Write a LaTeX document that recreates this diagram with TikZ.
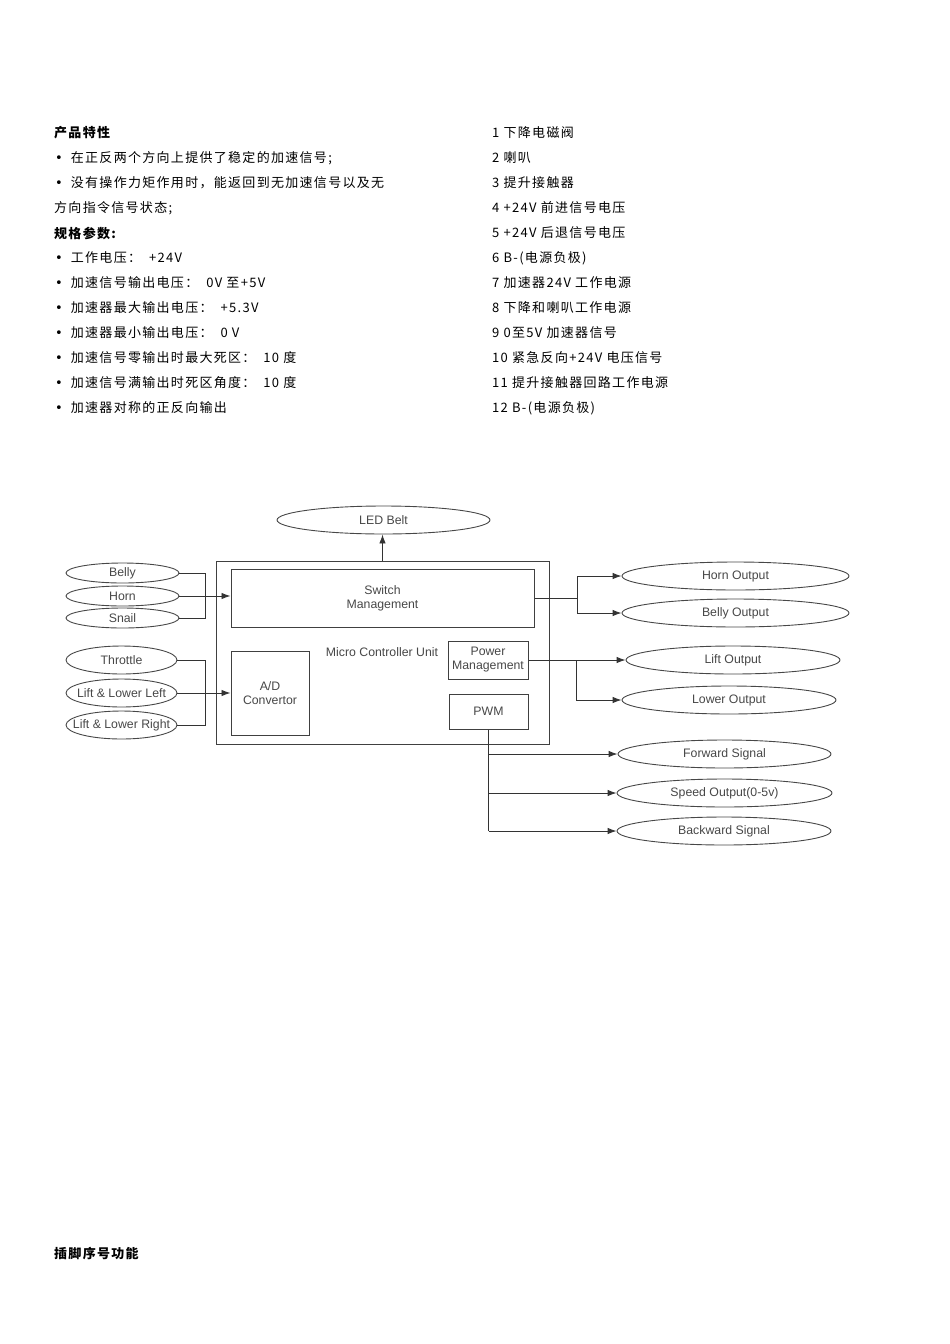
\documentclass[tikz,border=0pt]{standalone}
\usepackage{fontspec}
\setmainfont{Noto Sans CJK SC}[LetterSpace=10]
\newfontfamily\diag{Liberation Sans}
\newfontfamily\dv{DejaVu Sans}
\newcommand{\blt}{{\dv\fontsize{13}{15}\selectfont •}\hspace{8pt}}
\usetikzlibrary{shapes.geometric,arrows.meta}
\tikzset{
  txt/.style={anchor=west,inner sep=0pt,font=\fontsize{13}{15}\selectfont,text=black},
  lbl/.style={inner sep=0pt,font=\diag\fontsize{12.3}{14}\selectfont,text=black!72},
  oval/.style={draw=black!72,line width=0.9pt,ellipse,inner sep=0pt},
  blk/.style={draw=black!75,line width=1pt,inner sep=0pt,font=\diag\fontsize{12.3}{14}\selectfont,text=black!72,align=center},
  conn/.style={draw=black!80,line width=0.9pt},
  arr/.style={conn,-{Latex[length=9pt,width=6.5pt]}}
}
\begin{document}
\begin{tikzpicture}[x=1pt,y=-1pt]
\useasboundingbox (0,0) rectangle (950,1344);
% left text column
\node[txt,font=\fontsize{13}{15}\selectfont\bfseries] (h1) at (54,133) {产品特性};
\node[txt] (b1) at (55,158) {\blt 在正反两个方向上提供了稳定的加速信号;};
\node[txt] (b2) at (55,183) {\blt 没有操作力矩作用时，能返回到无加速信号以及无};
\node[txt] (b2b) at (54,208) {方向指令信号状态;};
\node[txt,font=\fontsize{13}{15}\selectfont\bfseries] (h2) at (54,233) {规格参数:};
\node[txt] (s1) at (55,258) {\blt 工作电压：\hspace{8pt}+24V};
\node[txt] (s2) at (55,283) {\blt 加速信号输出电压：\hspace{8pt}0V 至+5V};
\node[txt] (s3) at (55,308) {\blt 加速器最大输出电压：\hspace{8pt}+5.3V};
\node[txt] (s4) at (55,333) {\blt 加速器最小输出电压：\hspace{8pt}0 V};
\node[txt] (s5) at (55,358) {\blt 加速信号零输出时最大死区：\hspace{8pt}10 度};
\node[txt] (s6) at (55,383) {\blt 加速信号满输出时死区角度：\hspace{8pt}10 度};
\node[txt] (s7) at (55,408) {\blt 加速器对称的正反向输出};
% right text column
\node[txt] (p1) at (492,133) {1 下降电磁阀};
\node[txt] (p2) at (492,158) {2 喇叭};
\node[txt] (p3) at (492,183) {3 提升接触器};
\node[txt] (p4) at (492,208) {4 +24V 前进信号电压};
\node[txt] (p5) at (492,233) {5 +24V 后退信号电压};
\node[txt] (p6) at (492,258) {6 B-(电源负极)};
\node[txt] (p7) at (492,283) {7 加速器24V 工作电源};
\node[txt] (p8) at (492,308) {8 下降和喇叭工作电源};
\node[txt] (p9) at (492,333) {9 0至5V 加速器信号};
\node[txt] (p10) at (492,358) {10 紧急反向+24V 电压信号};
\node[txt] (p11) at (492,383) {11 提升接触器回路工作电源};
\node[txt] (p12) at (492,408) {12 B-(电源负极)};
\node[txt,font=\fontsize{13}{15}\selectfont\bfseries] (foot) at (54,1254) {插脚序号功能};

% diagram blocks
\node[blk,minimum width=333pt,minimum height=183pt] (mcu) at (382.5,652.5) {};
\node[blk,minimum width=303pt,minimum height=58pt] (sw) at (382.5,598) {Switch\\Management};
\node[blk,minimum width=78pt,minimum height=84pt] (ad) at (270,693) {A/D\\Convertor};
\node[blk,minimum width=80pt,minimum height=38pt] (pm) at (488,660) {Power\\Management};
\node[blk,minimum width=79pt,minimum height=35pt] (pwm) at (488.5,711.5) {PWM};
\node[lbl] (mcul) at (382,652) {Micro Controller Unit};

% ovals
\node[oval,minimum width=213pt,minimum height=28pt,label={[lbl]center:LED Belt}] (led) at (383.5,520) {};
\node[oval,minimum width=113pt,minimum height=20pt,label={[lbl]center:Belly}] (belly) at (122.5,573) {};
\node[oval,minimum width=113pt,minimum height=20pt,label={[lbl]center:Horn}] (horn) at (122.5,596) {};
\node[oval,minimum width=113pt,minimum height=20pt,label={[lbl]center:Snail}] (snail) at (122.5,618) {};
\node[oval,minimum width=111pt,minimum height=28pt,label={[lbl]center:Throttle}] (thr) at (121.5,660) {};
\node[oval,minimum width=111pt,minimum height=28pt,label={[lbl]center:Lift \& Lower Left}] (lll) at (121.5,693) {};
\node[oval,minimum width=111pt,minimum height=28pt,label={[lbl]center:Lift \& Lower Right}] (llr) at (121.5,725) {};
\node[oval,minimum width=227pt,minimum height=28pt,label={[lbl]center:Horn Output}] (ho) at (735.5,576) {};
\node[oval,minimum width=227pt,minimum height=28pt,label={[lbl]center:Belly Output}] (bo) at (735.5,613) {};
\node[oval,minimum width=214pt,minimum height=28pt,label={[lbl]center:Lift Output}] (lo) at (733,660) {};
\node[oval,minimum width=214pt,minimum height=28pt,label={[lbl]center:Lower Output}] (lwo) at (729,700) {};
\node[oval,minimum width=213pt,minimum height=28pt,label={[lbl]center:Forward Signal}] (fw) at (724.5,754) {};
\node[oval,minimum width=215pt,minimum height=28pt,label={[lbl]center:Speed Output(0-5v)}] (sp) at (724.5,793) {};
\node[oval,minimum width=214pt,minimum height=28pt,label={[lbl]center:Backward Signal}] (bw) at (724,831) {};

% connectors
\draw[arr] (mcu.north) -- (mcu.north |- led.south);
\draw[conn] (belly.east) -| (205,618) -- (snail.east);
\draw[arr] (horn.east) -- (horn.east -| sw.west);
\draw[conn] (thr.east) -| (205,725) -- (llr.east);
\draw[arr] (lll.east) -- (lll.east -| ad.west);
\draw[conn] (sw.east) -- (577,598);
\draw[arr] (577,598) |- (ho.west);
\draw[arr] (577,598) |- (bo.west);
\draw[arr] (pm.east) -- (pm.east -| lo.west);
\draw[arr] (576,660) |- (lwo.west);
\draw[conn] (pwm.south) -- (pwm.south |- bw.west);
\draw[arr] (pwm.south |- fw.west) -- (fw.west);
\draw[arr] (pwm.south |- sp.west) -- (sp.west);
\draw[arr] (pwm.south |- bw.west) -- (bw.west);
\end{tikzpicture}
\end{document}
